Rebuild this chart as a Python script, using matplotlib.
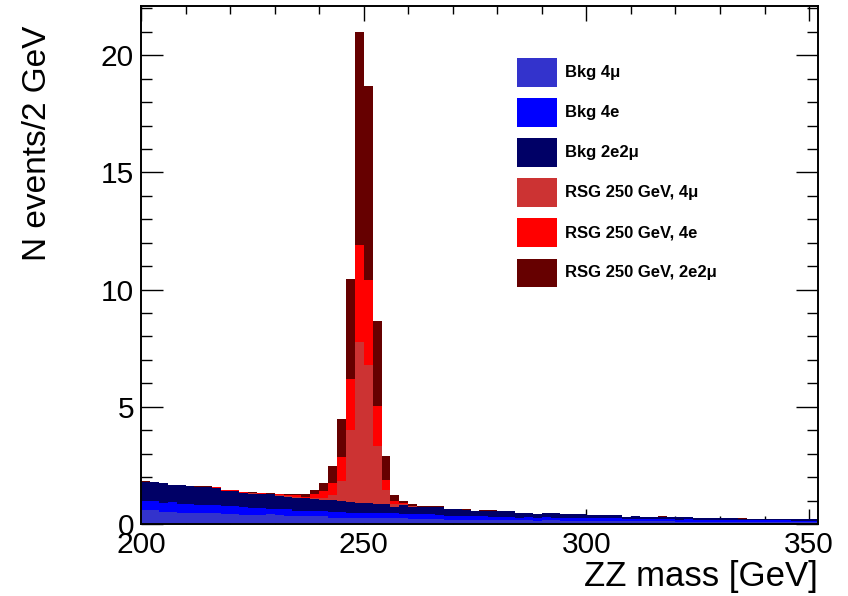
import numpy as np
import matplotlib
matplotlib.use('Agg')
import matplotlib.pyplot as plt
from matplotlib.patches import Rectangle
from matplotlib.ticker import MultipleLocator

plt.rcParams['font.family'] = ['Liberation Sans', 'DejaVu Sans']

# 2 GeV bins, 200 - 352 GeV
edges = np.arange(200, 354, 2)

# background, per channel (events / 2 GeV)
bkg_4mu = [0.60, 0.59, 0.53, 0.52, 0.49, 0.48, 0.48, 0.46, 0.46, 0.43,
           0.43, 0.39, 0.39, 0.40, 0.42, 0.38, 0.33, 0.33, 0.33, 0.32,
           0.32, 0.27, 0.27, 0.27, 0.26, 0.27, 0.24, 0.24, 0.24, 0.24,
           0.22, 0.22, 0.22, 0.22, 0.19, 0.19, 0.19, 0.19, 0.17, 0.17,
           0.16, 0.17, 0.15, 0.16, 0.14, 0.15, 0.15, 0.14, 0.14, 0.14,
           0.13, 0.14, 0.13, 0.13, 0.12, 0.12, 0.12, 0.11, 0.11, 0.11,
           0.10, 0.10, 0.10, 0.10, 0.09, 0.09, 0.09, 0.09, 0.08, 0.08,
           0.08, 0.08, 0.08, 0.07, 0.07, 0.07]
bkg_4e = [0.37, 0.37, 0.37, 0.40, 0.37, 0.38, 0.35, 0.37, 0.36, 0.33,
          0.34, 0.33, 0.29, 0.28, 0.23, 0.24, 0.29, 0.23, 0.23, 0.23,
          0.23, 0.26, 0.26, 0.21, 0.22, 0.21, 0.21, 0.21, 0.21, 0.17,
          0.19, 0.19, 0.19, 0.18, 0.15, 0.15, 0.16, 0.14, 0.15, 0.14,
          0.14, 0.13, 0.12, 0.13, 0.12, 0.13, 0.12, 0.12, 0.12, 0.11,
          0.13, 0.11, 0.11, 0.11, 0.10, 0.10, 0.11, 0.09, 0.09, 0.09,
          0.09, 0.10, 0.08, 0.08, 0.08, 0.09, 0.08, 0.07, 0.08, 0.08,
          0.07, 0.07, 0.07, 0.07, 0.07, 0.07]
bkg_2e2mu = [0.84, 0.82, 0.83, 0.74, 0.80, 0.76, 0.75, 0.75, 0.73, 0.65,
             0.64, 0.61, 0.62, 0.58, 0.61, 0.58, 0.53, 0.56, 0.54, 0.52,
             0.47, 0.51, 0.44, 0.47, 0.40, 0.42, 0.40, 0.42, 0.29, 0.39,
             0.32, 0.31, 0.31, 0.31, 0.28, 0.28, 0.25, 0.22, 0.24, 0.25,
             0.26, 0.25, 0.20, 0.19, 0.17, 0.19, 0.19, 0.16, 0.16, 0.16,
             0.13, 0.14, 0.14, 0.14, 0.09, 0.10, 0.05, 0.08, 0.11, 0.10,
             0.11, 0.09, 0.08, 0.08, 0.08, 0.07, 0.08, 0.07, 0.06, 0.06,
             0.06, 0.07, 0.06, 0.07, 0.07, 0.07]

# RS graviton 250 GeV signal, per channel
sig_4mu = [0.00, 0.00, 0.00, 0.00, 0.00, 0.00, 0.00, 0.01, 0.00, 0.01,
           0.01, 0.01, 0.01, 0.02, 0.01, 0.02, 0.03, 0.03, 0.03, 0.05,
           0.10, 0.19, 0.88, 3.08, 6.87, 5.90, 2.47, 0.60, 0.13, 0.05,
           0.02, 0.01, 0.01, 0.01, 0.00, 0.01, 0.00, 0.00, 0.01, 0.00,
           0.00, 0.00, 0.00, 0.00, 0.00, 0.00, 0.00, 0.00, 0.00, 0.00,
           0.00, 0.00, 0.00, 0.00, 0.00, 0.00, 0.00, 0.00, 0.00, 0.00,
           0.00, 0.00, 0.00, 0.00, 0.00, 0.00, 0.00, 0.00, 0.00, 0.00,
           0.00, 0.00, 0.00, 0.00, 0.00, 0.00]
sig_4e = [0.00, 0.00, 0.00, 0.00, 0.00, 0.00, 0.01, 0.00, 0.01, 0.01,
          0.01, 0.02, 0.02, 0.03, 0.03, 0.04, 0.04, 0.07, 0.04, 0.14,
          0.27, 0.53, 1.02, 2.15, 4.15, 3.60, 1.70, 0.42, 0.11, 0.05,
          0.03, 0.01, 0.01, 0.01, 0.01, 0.00, 0.01, 0.00, 0.00, 0.01,
          0.00, 0.00, 0.00, 0.00, 0.00, 0.00, 0.00, 0.00, 0.00, 0.00,
          0.00, 0.00, 0.00, 0.00, 0.00, 0.00, 0.00, 0.00, 0.00, 0.00,
          0.00, 0.00, 0.00, 0.00, 0.00, 0.00, 0.00, 0.00, 0.00, 0.00,
          0.00, 0.00, 0.00, 0.00, 0.00, 0.00]
sig_2e2mu = [0.01, 0.01, 0.00, 0.01, 0.01, 0.01, 0.01, 0.01, 0.01, 0.01,
             0.02, 0.02, 0.02, 0.03, 0.02, 0.03, 0.05, 0.08, 0.13, 0.21,
             0.34, 0.71, 1.63, 4.28, 9.10, 8.30, 3.63, 1.02, 0.25, 0.10,
             0.06, 0.02, 0.02, 0.02, 0.01, 0.02, 0.01, 0.01, 0.02, 0.01,
             0.01, 0.01, 0.00, 0.01, 0.01, 0.01, 0.00, 0.01, 0.01, 0.00,
             0.01, 0.01, 0.00, 0.01, 0.00, 0.01, 0.00, 0.01, 0.01, 0.00,
             0.01, 0.00, 0.01, 0.00, 0.01, 0.00, 0.00, 0.01, 0.00, 0.01,
             0.00, 0.01, 0.00, 0.00, 0.01, 0.00]

labels = ['Bkg 4\u03bc', 'Bkg 4e', 'Bkg 2e2\u03bc',
          'RSG 250 GeV, 4\u03bc', 'RSG 250 GeV, 4e', 'RSG 250 GeV, 2e2\u03bc']
colors = ['#3333cc', '#0000ff', '#000066', '#cc3333', '#ff0000', '#660000']

W, H = 848, 596
fig = plt.figure(figsize=(W / 100, H / 100), dpi=100)
ax = fig.add_axes([141 / W, 1 - 524 / H, 677 / W, 518 / H])

# stacked histogram
base = np.zeros(len(edges) - 1)
for vals, col in zip([bkg_4mu, bkg_4e, bkg_2e2mu, sig_4mu, sig_4e, sig_2e2mu], colors):
    top = base + np.array(vals)
    ax.stairs(top, edges, baseline=base, fill=True, color=col, lw=0)
    base = top

ax.set_xlim(200, 352)
ax.set_ylim(0, 22.1)
ax.set_axisbelow(True)

ax.xaxis.set_major_locator(MultipleLocator(50))
ax.xaxis.set_minor_locator(MultipleLocator(10))
ax.yaxis.set_major_locator(MultipleLocator(5))
ax.yaxis.set_minor_locator(MultipleLocator(1))
ax.tick_params(which='both', direction='in', top=True, right=True,
               labelsize=21.5, pad=5, width=1)
ax.tick_params(axis='x', which='major', length=11)
ax.tick_params(axis='x', which='minor', length=5.5)
ax.tick_params(axis='y', which='major', length=16)
ax.tick_params(axis='y', which='minor', length=8)
for s in ax.spines.values():
    s.set_linewidth(1.4)

fig.text(818 / W, 3 / H, 'ZZ mass [GeV]', ha='right', va='bottom', fontsize=25)
fig.text(22 / W, 1 - 26 / H, 'N events/2 GeV', ha='left', va='top',
         rotation=90, fontsize=24)

# legend
for k, (lab, col) in enumerate(zip(labels, colors)):
    yc = 72.5 + 40 * k
    fig.add_artist(Rectangle((517 / W, 1 - (yc + 14) / H), 40 / W, 28 / H,
                             transform=fig.transFigure, color=col, lw=0))
    fig.text(565 / W, 1 - yc / H, lab, ha='left', va='center',
             fontsize=12, fontweight='bold')

fig.savefig('out.png', dpi=100)
